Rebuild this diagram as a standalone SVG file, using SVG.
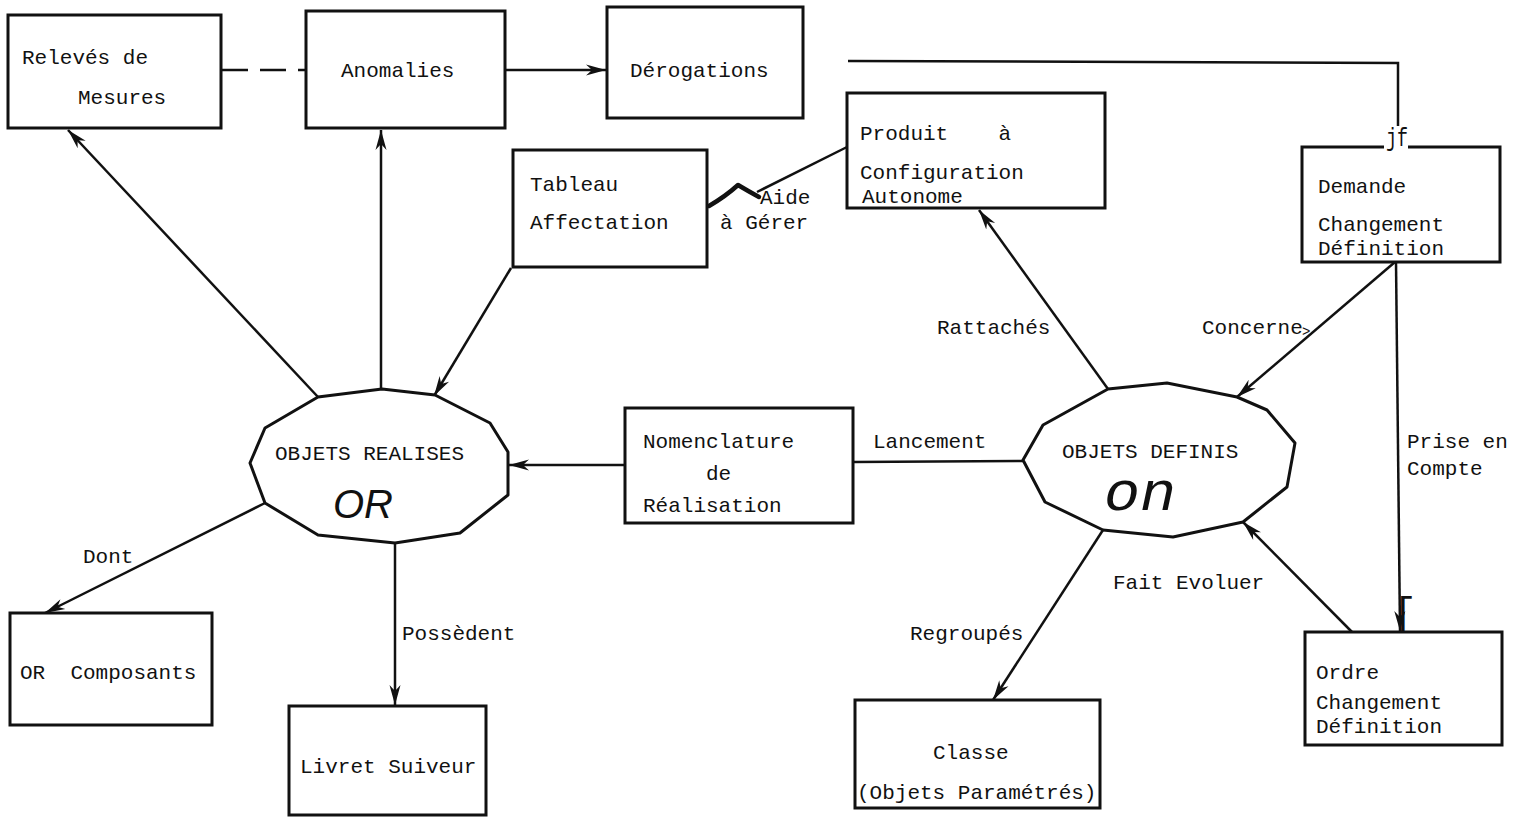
<svg xmlns="http://www.w3.org/2000/svg" width="1522" height="824" viewBox="0 0 1522 824">
<style>
.box{fill:#fff;stroke:#111;stroke-width:3}
.poly{fill:#fff;stroke:#111;stroke-width:3;stroke-linejoin:round}
.t{font-family:"Liberation Mono","DejaVu Sans Mono",monospace;font-size:21px;fill:#111}
.ln{fill:none;stroke:#111;stroke-width:2.5}
.arr{marker-end:url(#ah)}
</style>
<defs>
<marker id="ah" markerUnits="userSpaceOnUse" markerWidth="24" markerHeight="14" refX="20" refY="7" orient="auto" viewBox="0 0 24 14">
<path d="M0,1.5 L20,7 L0,12.5 L6,7 Z" fill="#111"/>
</marker>
</defs>
<rect width="1522" height="824" fill="#fff"/>

<g id="connectors">
<path class="ln" d="M222,70 H306" stroke-dasharray="26,12"/>
<path class="ln arr" d="M505,70 H606"/>
<path class="ln" d="M848,61 L1398,63 V126"/>
<path class="ln arr" d="M318,397 L68,130"/>
<path class="ln arr" d="M381,388 L381,130"/>
<path class="ln arr" d="M511,268 L434,396"/>
<path class="ln arr" d="M625,465 L509,465"/>
<path class="ln" d="M853,462 L1023,461"/>
<path class="ln" d="M847,147 L757,192"/>
<path d="M709,206 Q726,196 738,185 Q748,191 759,197" fill="none" stroke="#111" stroke-width="4.5" stroke-linecap="round" stroke-linejoin="round"/>
<path class="ln arr" d="M1108,389 L979,210"/>
<path class="ln arr" d="M1395,262 L1237,397"/>
<path class="ln arr" d="M1396,262 L1400,631"/>
<path class="ln arr" d="M1352,632 L1243,522"/>
<path class="ln arr" d="M1103,530 L993,700"/>
<path class="ln arr" d="M265,503 L45,613"/>
<path class="ln arr" d="M395,543 L395,705"/>
</g>

<g id="releves">
<rect class="box" x="8" y="15" width="213" height="113"/>
<text class="t" x="22" y="64">Relevés de</text>
<text class="t" x="78" y="104">Mesures</text>
</g>
<g id="anomalies">
<rect class="box" x="306" y="11" width="199" height="117"/>
<text class="t" x="341" y="77">Anomalies</text>
</g>
<g id="derogations">
<rect class="box" x="607" y="7" width="196" height="111"/>
<text class="t" x="630" y="77">Dérogations</text>
</g>
<g id="produit">
<rect class="box" x="847" y="93" width="258" height="115"/>
<text class="t" x="860" y="140" xml:space="preserve">Produit    à</text>
<text class="t" x="860" y="179">Configuration</text>
<text class="t" x="862" y="203">Autonome</text>
</g>
<g id="tableau">
<rect class="box" x="513" y="150" width="194" height="117"/>
<text class="t" x="530" y="191">Tableau</text>
<text class="t" x="530" y="229">Affectation</text>
</g>
<g id="aide-label">
<text class="t" x="760" y="204">Aide</text>
<text class="t" x="720" y="229">à Gérer</text>
</g>
<g id="demande">
<rect class="box" x="1302" y="147" width="198" height="115"/>
<rect x="1384" y="126" width="24" height="24" fill="#fff"/>
<text class="t" x="1386" y="146" style="font-size:25px" textLength="22" lengthAdjust="spacingAndGlyphs">jf</text>
<text class="t" x="1318" y="193">Demande</text>
<text class="t" x="1318" y="231">Changement</text>
<text class="t" x="1318" y="255">Définition</text>
</g>
<g id="labels-top">
<text class="t" x="937" y="334">Rattachés</text>
<text class="t" x="1202" y="334">Concerne</text>
<text class="t" x="1302" y="336" style="font-size:14px">&gt;</text>
</g>
<g id="objets-realises">
<polygon class="poly" points="318,397 382,389 435,395 490,423 508,452 508,495 460,533 395,543 318,535 265,503 250,463 265,428"/>
<text class="t" x="275" y="460">OBJETS REALISES</text>
<text x="333" y="518" style="font-family:'Liberation Sans',Arial,sans-serif;font-size:40px;font-style:italic;fill:#111">OR</text>
</g>
<g id="nomenclature">
<rect class="box" x="625" y="408" width="228" height="115"/>
<text class="t" x="643" y="448">Nomenclature</text>
<text class="t" x="706" y="480">de</text>
<text class="t" x="643" y="512">Réalisation</text>
</g>
<g id="lancement-label">
<text class="t" x="873" y="448">Lancement</text>
</g>
<g id="objets-definis">
<polygon class="poly" points="1108,389 1167,383 1237,397 1267,410 1295,443 1287,487 1243,522 1173,537 1103,530 1045,502 1023,460 1043,425"/>
<text class="t" x="1062" y="458">OBJETS DEFINIS</text>
<text x="1104" y="510" style="font-family:'Liberation Mono',monospace;font-size:56px;font-style:italic;fill:#111" textLength="72" lengthAdjust="spacingAndGlyphs">on</text>
</g>
<g id="labels-mid">
<text class="t" x="1407" y="448">Prise en</text>
<text class="t" x="1407" y="475">Compte</text>
<text class="t" x="1113" y="589">Fait Evoluer</text>
<text class="t" x="910" y="640">Regroupés</text>
<text class="t" x="83" y="563">Dont</text>
<text class="t" x="402" y="640">Possèdent</text>
<text x="1393" y="626" style="font-family:'Liberation Mono',monospace;font-size:40px;fill:#111">[</text>
</g>
<g id="or-composants">
<rect class="box" x="10" y="613" width="202" height="112"/>
<text class="t" x="20" y="679" xml:space="preserve">OR  Composants</text>
</g>
<g id="livret">
<rect class="box" x="289" y="706" width="197" height="109"/>
<text class="t" x="300" y="773">Livret Suiveur</text>
</g>
<g id="classe">
<rect class="box" x="855" y="700" width="245" height="108"/>
<text class="t" x="933" y="759">Classe</text>
<text class="t" x="857" y="799">(Objets Paramétrés)</text>
</g>
<g id="ordre">
<rect class="box" x="1305" y="632" width="197" height="113"/>
<text class="t" x="1316" y="679">Ordre</text>
<text class="t" x="1316" y="709">Changement</text>
<text class="t" x="1316" y="733">Définition</text>
</g>
</svg>
